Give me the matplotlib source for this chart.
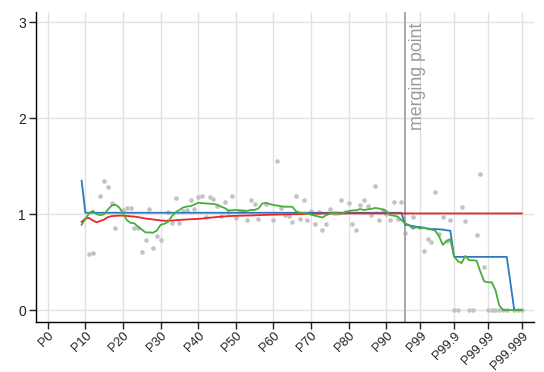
import numpy as np
import matplotlib
matplotlib.use('Agg')
import matplotlib.pyplot as plt

plt.rcParams['font.family'] = ['Liberation Sans', 'DejaVu Sans']

nan = np.nan

# positions on the (stretched) percentile axis, one per step
pos = np.arange(9, 127)

tick_pos = [0, 10, 20, 30, 40, 50, 60, 70, 80, 90, 99, 108, 117, 126]
tick_lab = ['P0', 'P10', 'P20', 'P30', 'P40', 'P50', 'P60', 'P70', 'P80', 'P90',
            'P99', 'P99.9', 'P99.99', 'P99.999']
merge_pos = 95

# gray points
pts = ([nan] +
       [nan, 0.58, 0.60, nan, 1.19, 1.35, 1.28, 1.12, 0.86, nan] +
       [1.04, 1.06, 1.065, 0.86, 0.86, 0.61, 0.73, 1.05, 0.65, 0.77] +
       [0.73, nan, 1.02, 0.91, 1.17, 0.91, 1.03, 1.04, 1.145, 1.055] +
       [1.18, 1.19, 0.975, 1.18, 1.155, 1.09, 0.98, 1.13, 1.025, 1.19] +
       [0.96, 1.03, 1.03, 0.94, 1.145, 1.11, 0.955, nan, 1.105, nan] +
       [0.94, 1.56, 1.06, 0.99, 0.98, 0.92, 1.19, 0.955, 1.15, 0.94] +
       [1.037, 0.895, 1.025, 0.838, 0.90, 1.058, 1.016, 1.01, 1.15, 1.026] +
       [1.113, 0.90, 0.836, 1.096, 1.147, 1.088, 0.99, 1.297, 0.94, 1.044] +
       [1.0, 0.94, 1.13, 0.945, 1.124, 0.80, nan, 0.974, nan, nan] +
       [0.614, 0.741, 0.706, 1.232, 0.793, 0.974, 0.72, 0.936, 0, 0] +
       [1.071, 0.929, 0, 0, 0.779, 1.42, 0.445, 0, 0, 0] +
       [0, 0, 0, nan, 0, 0, 0])

# green (moving average)
green = ([0.89] +
         [0.95, 1.01, 1.035, 1.0, 0.99, 1.0, 1.05, 1.09, 1.10, 1.07] +
         [1.01, 0.94, 0.91, 0.905, 0.87, 0.84, 0.81, 0.81, 0.807, 0.83] +
         [0.89, 0.90, 0.92, 0.98, 1.02, 1.045, 1.07, 1.08, 1.085, 1.10] +
         [1.12, 1.115, 1.113, 1.11, 1.107, 1.10, 1.08, 1.065, 1.04, 1.04] +
         [1.045, 1.04, 1.035, 1.035, 1.044, 1.045, 1.06, 1.11, 1.12, 1.105] +
         [1.096, 1.09, 1.083, 1.078, 1.078, 1.078, 1.03, 1.016, 1.012, 1.005] +
         [0.995, 0.985, 0.975, 0.965, 0.99, 1.005, 1.016, 1.01, 1.002, 1.02] +
         [1.033, 1.04, 1.04, 1.054, 1.044, 1.05, 1.055, 1.065, 1.06, 1.05] +
         [1.033, 0.99, 0.985, 0.975, 0.94, 0.904, 0.887, 0.85, 0.865, 0.85] +
         [0.86, 0.845, 0.84, 0.828, 0.77, 0.68, 0.72, 0.74, 0.56, 0.51] +
         [0.49, 0.565, 0.52, 0.52, 0.515, 0.40, 0.30, 0.29, 0.29, 0.21] +
         [0.05, 0, 0, 0, 0, 0, 0])

# red (smooth fit)
red = ([0.92] +
       [0.955, 0.96, 0.935, 0.915, 0.93, 0.945, 0.97, 0.98, 0.983, 0.985] +
       [0.985, 0.982, 0.978, 0.975, 0.97, 0.962, 0.955, 0.95, 0.945, 0.94] +
       [0.935, 0.932, 0.932, 0.934, 0.937, 0.94, 0.943, 0.945, 0.947, 0.949] +
       [0.951, 0.955, 0.959, 0.963, 0.967, 0.971, 0.974, 0.977, 0.98, 0.982] +
       [0.983, 0.984, 0.985, 0.986, 0.987, 0.989, 0.99, 0.992, 0.993, 0.994] +
       [0.995, 0.996, 0.997, 0.998, 0.999, 1.0, 1.0, 1.001, 1.002, 1.003] +
       [1.004, 1.005, 1.006, 1.007, 1.008, 1.008] +
       [1.008] * 51)

# blue (step estimate)
blue = ([1.35] +
        [1.015] * 85 +
        [0.89, 0.885, 0.875, 0.87, 0.865, 0.86, 0.85, 0.845, 0.845, 0.842, 0.84, 0.832, 0.828] +
        [0.555] * 15 +
        [0.28] +
        [0, 0, 0])

fig = plt.figure(figsize=(5.44, 3.72), dpi=100)
ax = fig.add_axes([0.066, 0.135, 0.916, 0.833])

ax.scatter(pos, pts, s=11, color='#c3c3c3', linewidths=0, zorder=2)
ax.axvline(merge_pos, color='#a3a3a3', lw=1.3, zorder=2.5)
ax.plot(pos, blue, color='#2f78bd', lw=1.3, zorder=3)
ax.plot(pos, red, color='#e8262a', lw=1.3, zorder=3.1)
ax.plot(pos, green, color='#47ae3e', lw=1.3, zorder=3.2)

ax.text(merge_pos + 0.9, 3.0, 'merging point', rotation=90, ha='left', va='top',
        fontsize=12.8, color='#9a9a9a')

ax.set_xlim(-3.15, 129.3)
ax.set_ylim(-0.122, 3.11)
ax.set_xticks(tick_pos)
ax.set_xticklabels(tick_lab, rotation=45, ha='right', va='top', rotation_mode='anchor')
ax.set_yticks([0, 1, 2, 3])
ax.grid(True, color='#e1e1e1', lw=1)
ax.set_axisbelow(True)
for s in ['top', 'right']:
    ax.spines[s].set_visible(False)
for s in ['left', 'bottom']:
    ax.spines[s].set_linewidth(1.0)
ax.tick_params(axis='both', length=4.7, width=1, labelsize=10, pad=2.5, colors='#222222')
ax.tick_params(axis='x', labelsize=9.2, pad=1.0)

fig.savefig('out.png', dpi=100)
